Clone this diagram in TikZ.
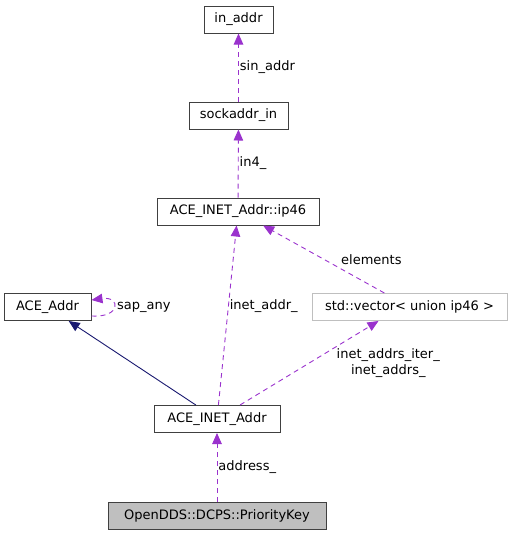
\documentclass[tikz,border=0pt]{standalone}
\usepackage{fontspec}
\setmainfont{DejaVu Sans}
\usetikzlibrary{arrows.meta}
\usetikzlibrary{calc}

\definecolor{dorchid}{HTML}{9A32CD}
\definecolor{mnavy}{HTML}{191970}

\begin{document}
\begin{tikzpicture}[x=1pt,y=-1pt,
    cls/.style={draw=black!75,line width=1pt,inner sep=0pt,minimum height=27pt,font=\fontsize{13}{15}\selectfont},
    dep/.style={dorchid,line width=0.9pt,dash pattern=on 5pt off 4pt,-{Triangle[length=11pt,width=9.5pt]}},
    inh/.style={mnavy,line width=0.9pt,-{Triangle[length=11pt,width=9.5pt]}},
    lbl/.style={black,font=\fontsize{13}{16}\selectfont,inner sep=1pt}]

    \useasboundingbox (0,0) rectangle (512,536);

    \node [cls,minimum width=69pt] (inaddr) at (238.5,19.5) {in\_addr};
    \node [cls,minimum width=99pt] (sock) at (238.5,115.5) {sockaddr\_in};
    \node [cls,minimum width=162pt] (ip) at (238,211.5) {ACE\_INET\_Addr::ip46};
    \node [cls,minimum width=87pt] (addr) at (47.5,307) {ACE\_Addr};
    \node [cls,draw=black!25,minimum width=195pt] (vec) at (409.5,307) {std::vector< union ip46 >};
    \node [cls,minimum width=126pt] (inet) at (217,419) {ACE\_INET\_Addr};
    \node [cls,fill=black!25,minimum width=218pt] (pk) at (217,516) {OpenDDS::DCPS::PriorityKey};

    \foreach \a/\b/\t in {sock/inaddr/sin\_addr, ip/sock/in4\_, pk/inet/address\_}
        \draw [dep] (\a) -- (\b) node [lbl,midway,anchor=west] {\t};

    \draw [dep] (inet) -- (ip) node [lbl,pos=0.55,anchor=west] {inet\_addr\_};
    \draw [dep] (vec) -- (ip) node [lbl,pos=0.5,anchor=west,xshift=16pt] {elements};
    \draw [dep] (inet) -- ([xshift=-31pt]vec.south)
        node [lbl,pos=0.5,anchor=west,align=center,xshift=26pt] {inet\_addrs\_iter\_\\inet\_addrs\_};
    \draw [inh] (inet) -- (addr);

    \draw [dep] ([yshift=-9pt]addr.east) .. controls (121,318) and (121,296) .. ([yshift=7pt]addr.east)
        node [lbl,pos=0.5,anchor=west,xshift=2pt] {sap\_any};
\end{tikzpicture}
\end{document}
